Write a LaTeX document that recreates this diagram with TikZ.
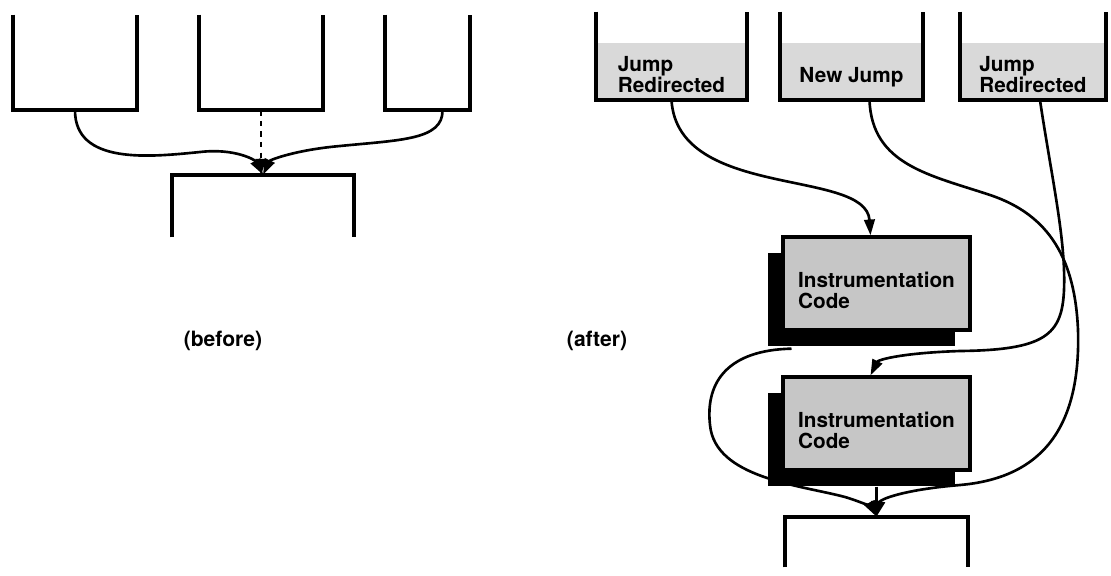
\documentclass[tikz,border=0pt]{standalone}
\usepackage{fontspec}
\setmainfont{TeX Gyre Heros}
\usetikzlibrary{arrows.meta,positioning,calc,shadows}

\tikzset{
  blockline/.style={line width=2.2pt},
  blocknode/.style={rectangle, inner sep=0pt,
    font=\bfseries\fontsize{11.8}{11}\selectfont},
  jumpfill/.style={blocknode, fill=gray!30},
  instrbox/.style={blocknode, draw, line width=1.9pt, fill=gray!45,
    font=\bfseries\fontsize{11.8}{10.3}\selectfont,
    minimum width=3.74cm, minimum height=1.86cm,
    drop shadow={shadow xshift=-0.3cm, shadow yshift=-0.32cm, fill=black, opacity=1}},
  flow/.style={line width=1.5pt, -{Triangle[length=9pt,width=6pt]}},
  caption/.style={font=\bfseries\fontsize{12}{12}\selectfont}
}

\begin{document}
\begin{tikzpicture}[x=0.02cm, y=-0.02cm]
  \useasboundingbox (0,0) rectangle (1111,575);

  % before: three blocks and their common target
  \node[blocknode, minimum width=2.48cm, minimum height=1.9cm] (blkA) at (75,62.5) {};
  \node[blocknode, minimum width=2.46cm, minimum height=1.9cm] (blkB) at (261,62.5) {};
  \node[blocknode, minimum width=1.7cm, minimum height=1.9cm] (blkC) at (427.5,62.5) {};
  \node[blocknode, minimum width=3.64cm, minimum height=1.24cm] (tgt) at (263,206) {};

  \foreach \b in {blkA,blkB,blkC}
    \draw[blockline] (\b.north west) -- (\b.south west) -- (\b.south east) -- (\b.north east);
  \draw[blockline] (tgt.south west) -- (tgt.north west) -- (tgt.north east) -- (tgt.south east);

  \draw[flow] (blkA.south) .. controls (75,165) and (150,157) .. (200,152)
    .. controls (235,148) and (255,160) .. (tgt.north);
  \draw[flow, dashed] (blkB.south) -- (blkB.south |- tgt.north);
  \draw[flow] ($(blkC.south)+(15,0)$) .. controls (443,140) and (400,140) .. (340,146)
    .. controls (295,150) and (270,160) .. (tgt.north);

  \node[caption] (before) at (223,341) {(before)};

  % after: jumps redirected into instrumentation code
  \node[jumpfill, minimum width=3.02cm, minimum height=1.14cm] (jmpA) at (671.5,71.5)
    {\raisebox{0pt}[0pt][0pt]{\begin{tabular}[t]{@{}l@{}}Jump\\Redirected\end{tabular}}};
  \node[jumpfill, minimum width=2.86cm, minimum height=1.14cm] (jmpNew) at (851.5,71.5)
    {\raisebox{-6.5pt}[0pt][0pt]{New Jump}};
  \node[jumpfill, minimum width=2.92cm, minimum height=1.14cm] (jmpB) at (1033,71.5)
    {\raisebox{0pt}[0pt][0pt]{\begin{tabular}[t]{@{}l@{}}Jump\\Redirected\end{tabular}}};

  \foreach \b in {jmpA,jmpNew,jmpB}
    \draw[blockline] ($(\b.north west)+(0,-31)$) -- (\b.south west) -- (\b.south east) -- ($(\b.north east)+(0,-31)$);

  \node[instrbox] (instrA) at (876.5,283.5)
    {\raisebox{-2.5pt}[0pt][0pt]{\begin{tabular}[t]{@{}l@{}}Instrumentation\\Code\end{tabular}}};
  \node[instrbox] (instrB) at (876.5,423.5)
    {\raisebox{-2.5pt}[0pt][0pt]{\begin{tabular}[t]{@{}l@{}}Instrumentation\\Code\end{tabular}}};

  \node[blocknode, minimum width=3.66cm, minimum height=1cm] (tgtNew) at (876.5,542) {};
  \draw[blockline] (tgtNew.south west) -- (tgtNew.north west) -- (tgtNew.north east) -- (tgtNew.south east);

  \draw[flow] (jmpA.south) .. controls (678,200) and (866,168) .. ($(instrA.north)+(-6,0)$);
  \draw[flow] ($(jmpNew.south)+(18,0)$) .. controls (872,165) and (930,175) .. (990,195)
    .. controls (1050,215) and (1075,260) .. (1078,330)
    .. controls (1081,430) and (1040,478) .. (960,485)
    .. controls (900,490) and (880,500) .. (tgtNew.north);
  \draw[flow] ($(jmpB.south)+(7,0)$) .. controls (1052,180) and (1066,240) .. (1064,290)
    .. controls (1062,335) and (1045,350) .. (960,351)
    .. controls (900,353) and (878,360) .. ($(instrB.north)+(-6,0)$);
  \draw[flow] ($(instrA.south)+(-85,17)$) .. controls (730,350) and (705,380) .. (710,425)
    .. controls (715,478) and (800,485) .. (845,497)
    .. controls (862,502) and (872,508) .. (tgtNew.north);
  \draw[flow] ($(instrB.south)+(0,15)$) -- (tgtNew.north);

  \node[caption] (after) at (597,341) {(after)};
\end{tikzpicture}
\end{document}
